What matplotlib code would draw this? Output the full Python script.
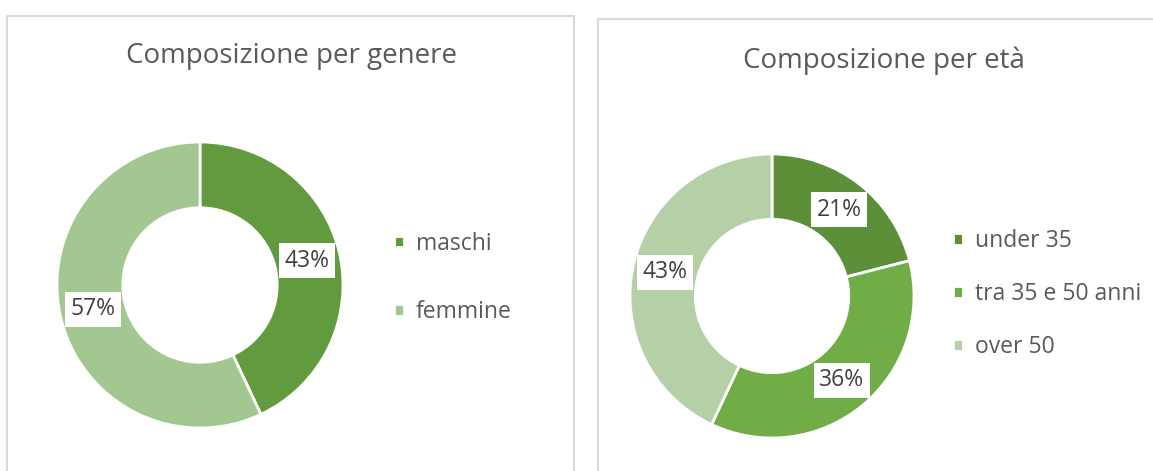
import numpy as np
import matplotlib.pyplot as plt
from matplotlib.patches import Rectangle

plt.rcParams['font.family'] = ['Open Sans', 'DejaVu Sans']

# data
gender_labels = ['maschi', 'femmine']
gender_values = [43, 57]
gender_colors = ['#629B3E', '#A3C791']

age_labels = ['under 35', 'tra 35 e 50 anni', 'over 50']
age_values = [21, 36, 43]
age_colors = ['#5D8F38', '#71AD47', '#B5D0A7']

W, H = 1153, 471
fig = plt.figure(figsize=(W / 100, H / 100), dpi=100)
fig.patch.set_facecolor('white')

# chart frames
for x0, y0, x1, y1 in [(7, 16, 574, 480), (598, 19, 1160, 480)]:
    fig.patches.append(Rectangle((x0 / W, 1 - y1 / H), (x1 - x0) / W, (y1 - y0) / H,
                                 transform=fig.transFigure, facecolor='none',
                                 edgecolor='#D9D9D9', linewidth=1.5))

text_col = '#595959'


def donut(cx, cy, r, values, colors, labels, title, title_xy, leg_xy, spacing):
    ax = fig.add_axes([(cx - r) / W, 1 - (cy + r) / H, 2 * r / W, 2 * r / H])
    wedges, _ = ax.pie(values, colors=colors, startangle=90, counterclock=False,
                       radius=1, wedgeprops=dict(width=0.46, edgecolor='white', linewidth=2))
    ax.set_xlim(-1, 1)
    ax.set_ylim(-1, 1)
    ax.set_aspect('equal')
    ax.axis('off')
    for w, v in zip(wedges, values):
        ang = np.deg2rad((w.theta1 + w.theta2) / 2)
        ax.text(0.77 * np.cos(ang), 0.77 * np.sin(ang), f'{v}%', ha='center', va='center',
                fontsize=16.5, color='#404040',
                bbox=dict(facecolor='white', edgecolor='none', pad=4))
    fig.text(title_xy[0] / W, 1 - title_xy[1] / H, title, ha='center', va='center',
             fontsize=20, color=text_col)
    fig.legend(wedges, labels, loc='center left',
               bbox_to_anchor=(leg_xy[0] / W, 1 - leg_xy[1] / H), frameon=False,
               fontsize=16.5, labelcolor=text_col, handlelength=0.42, handleheight=0.42,
               handletextpad=0.5, labelspacing=spacing, borderpad=0)


donut(200, 285, 143, gender_values, gender_colors, gender_labels,
      'Composizione per genere', (291, 56), (383, 278), 1.95)
donut(772, 296, 142, age_values, age_colors, age_labels,
      'Composizione per età', (884, 61), (942, 294), 1.27)

fig.savefig('out.png', dpi=100, facecolor='white')
